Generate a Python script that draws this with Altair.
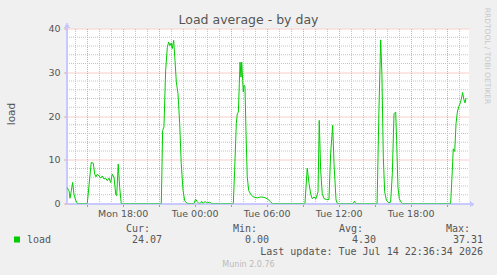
import altair as alt
import pandas as pd

# ---- data (hours since Mon 00:00, load average) ----
hours = [13.36, 13.53, 13.61, 13.72, 13.83, 13.94, 14.08, 14.22, 15.05, 15.38, 15.55, 15.67, 15.78, 15.88,
         16.03, 16.17, 16.30, 16.44, 16.58, 16.72, 16.86, 17.00, 17.13, 17.28, 17.42, 17.50, 17.63, 17.75,
         17.88, 21.22, 21.33, 21.44, 21.58, 21.72, 21.83, 21.94, 22.05, 22.13, 22.25, 22.36, 22.47, 22.61,
         22.75, 22.88, 23.03, 23.17, 23.38, 23.94, 24.08, 24.22, 24.36, 24.50, 24.58, 24.70, 24.86, 25.00,
         25.25, 25.40, 27.22, 27.33, 27.47, 27.55, 27.64, 27.72, 27.78, 27.86, 27.92, 28.00, 28.05, 28.11,
         28.19, 28.28, 28.38, 28.50, 28.67, 28.88, 29.22, 29.50, 29.78, 30.05, 30.33, 30.47, 33.19, 33.38,
         33.53, 33.67, 33.80, 33.94, 34.11, 34.28, 34.38, 34.50, 34.63, 34.78, 35.00, 35.19, 35.33, 35.50,
         35.61, 35.78, 35.89, 37.20, 37.31, 37.42, 39.20, 39.36, 39.50, 39.60, 39.72, 39.83, 39.97, 40.14,
         40.33, 40.47, 40.61, 40.75, 40.83, 40.94, 41.05, 41.22, 41.33, 45.33, 45.47, 45.55, 45.67, 45.78,
         45.89, 46.00, 46.11, 46.22, 46.33, 46.44, 46.53, 46.61]
load = [3.7, 2.9, 1.2, 2.9, 4.8, 2.1, 0.8, 0.0, 0.0, 9.4, 9.2, 6.7, 6.1, 6.7,
        6.3, 5.8, 6.3, 5.6, 5.8, 5.2, 5.8, 4.8, 6.7, 6.0, 2.1, 1.8, 9.0, 3.7,
        0.0, 0.0, 16.7, 17.5, 30.4, 35.7, 36.9, 36.1, 36.7, 35.4, 37.3, 32.7, 27.8, 25.1,
        18.3, 9.1, 3.0, 0.6, 0.0, 0.0, 1.0, 0.4, 0.0, 0.1, 0.5, 0.0, 0.5, 0.1,
        0.3, 0.0, 0.0, 7.6, 18.3, 20.5, 20.9, 27.4, 32.3, 28.9, 32.3, 28.1, 25.5, 27.0,
        26.8, 16.0, 6.1, 3.0, 2.1, 1.5, 1.3, 1.5, 1.4, 1.1, 0.4, 0.0, 0.0, 8.1,
        4.6, 2.1, 1.1, 1.5, 1.1, 2.7, 19.0, 7.6, 2.3, 1.1, 0.9, 0.9, 11.4, 17.9,
        9.1, 0.8, 0.0, 0.0, 0.5, 0.0, 0.0, 22.0, 37.4, 29.7, 10.6, 2.7, 0.8, 0.2,
        0.3, 6.8, 20.5, 20.9, 14.4, 3.8, 1.1, 0.2, 0.0, 0.0, 7.6, 12.5, 11.9, 18.3,
        20.9, 22.1, 22.8, 23.9, 25.4, 23.7, 23.0, 24.1]

tick_hours = [18, 24, 30, 36, 42]
tick_labels = ["Mon 18:00", "Tue 00:00", "Tue 06:00", "Tue 12:00", "Tue 18:00"]

y_minor_grid = [2, 4, 6, 8, 12, 14, 16, 18, 22, 24, 26, 28, 32, 34, 36, 38]

stat_names = ["Cur:", "Min:", "Avg:", "Max:"]
stat_values = [24.07, 0.00, 4.30, 37.31]

title_text = "Load average - by day"
series_name = "load"
last_update = "Last update: Tue Jul 14 22:36:34 2026"
footer = "Munin 2.0.76"
side_text = "RRDTOOL / TOBI OETIKER"

df = pd.DataFrame({"h": hours, "load": load})

W, H = 402, 175
X_DOMAIN = [13.36, 46.86]
GREEN = "#00cc00"
TXT = "#555555"
AXIS = "#c8c8ff"
MAJOR = "#f09a9a"
MINOR = "#c4c4c4"

label_expr = "''"
for hv, lb in reversed(list(zip(tick_hours, tick_labels))):
    label_expr = f"datum.value == {hv} ? '{lb}' : ({label_expr})"

x_axis = alt.Axis(
    values=list(range(14, 47)),
    labelExpr=label_expr,
    grid=True,
    gridColor={"condition": {"test": "datum.value % 3 == 0", "value": MAJOR}, "value": MINOR},
    gridDash=[1, 1],
    tickColor={"condition": {"test": "datum.value % 3 == 0", "value": "#f08080"}, "value": "transparent"},
    tickSize=3,
    domain=False,
    labelPadding=2,
    labelFont="DejaVu Sans",
    labelFontSize=9.5,
    labelColor=TXT,
    labelOverlap=False,
    labelFlush=False,
    title=None,
)
y_axis = alt.Axis(
    values=[0, 10, 20, 30, 40],
    grid=True,
    gridColor=MAJOR,
    gridDash=[1, 1],
    tickColor="#f08080",
    tickSize=3,
    domain=False,
    labelPadding=4,
    labelFont="DejaVu Sans",
    labelFontSize=9.5,
    labelColor=TXT,
    labelOverlap=False,
    title=None,
)

xs = alt.Scale(domain=X_DOMAIN, nice=False, zero=False)
ys = alt.Scale(domain=[0, 40], nice=False)

base = alt.Chart(df)

line = base.mark_line(color=GREEN, strokeWidth=1, interpolate="linear", clip=True).encode(
    x=alt.X("h:Q", scale=xs, axis=x_axis),
    y=alt.Y("load:Q", scale=ys, axis=y_axis),
)

# minor horizontal grid lines
hgrid = alt.Chart(pd.DataFrame({"v": y_minor_grid})).mark_rule(
    color=MINOR, strokeWidth=1, strokeDash=[1, 1]
).encode(y=alt.Y("v:Q", scale=ys), x=alt.value(0), x2=alt.value(W))

# axis lines with arrows
x_line = base.mark_rule(color=AXIS, strokeWidth=1).encode(
    x=alt.value(0), x2=alt.value(W + 3), y=alt.value(H + 0.5))
y_line = base.mark_rule(color=AXIS, strokeWidth=1).encode(
    x=alt.value(0), y=alt.value(-3), y2=alt.value(H))
x_arrow = base.mark_point(shape="triangle-right", filled=True, color=AXIS, size=22, opacity=1).encode(
    x=alt.value(W + 3), y=alt.value(H + 0.5))
y_arrow = base.mark_point(shape="triangle-up", filled=True, color=AXIS, size=22, opacity=1).encode(
    x=alt.value(0), y=alt.value(-3))

def txt(text, x, y, size=10, color=TXT, align="left", font="DejaVu Sans", angle=0, baseline="alphabetic"):
    return alt.Chart(pd.DataFrame({"t": [text]})).mark_text(
        align=align, baseline=baseline, font=font, fontSize=size, color=color, angle=angle
    ).encode(text="t:N", x=alt.value(x - 67), y=alt.value(y - 28.5))

layers = [hgrid, x_line, y_line, x_arrow, y_arrow, line]
layers.append(txt(title_text, 248.5, 24, size=12.5, align="center"))
layers.append(txt(series_name, 15, 114, size=10.5, align="center", angle=270))
layers.append(txt(side_text, 485, 56, size=7.5, color="#c8c8c8", align="center", angle=90))

# legend
legend_sq = alt.Chart(pd.DataFrame({"t": [series_name]})).mark_square(
    color=GREEN, size=36, filled=True, opacity=1).encode(x=alt.value(17 - 67), y=alt.value(239.5 - 28.5))
layers.append(legend_sq)
MONO = "DejaVu Sans Mono"
layers.append(txt(series_name, 27, 243, font=MONO))
head_right = [150, 257, 363, 470]
val_right = [162, 269, 376, 483]
for name, val, hx, vx in zip(stat_names, stat_values, head_right, val_right):
    layers.append(txt(name, hx, 231.5, font=MONO, align="right"))
    layers.append(txt(f"{val:.2f}", vx, 243, font=MONO, align="right"))
layers.append(txt(last_update, 483, 255, font=MONO, align="right"))
layers.append(txt(footer, 248.5, 266.5, size=8, color="#bbbbbb", align="center"))

chart = alt.layer(*layers).properties(
    width=W, height=H,
    autosize=alt.AutoSizeParams(type="none"),
    padding={"left": 67, "top": 28.5, "right": 497 - 67 - W, "bottom": 275 - 28.5 - H},
    background="#f0f0f0",
).configure_view(stroke=None, fill="white")

chart.save("out.html", embed_options={"renderer": "svg", "actions": False})
